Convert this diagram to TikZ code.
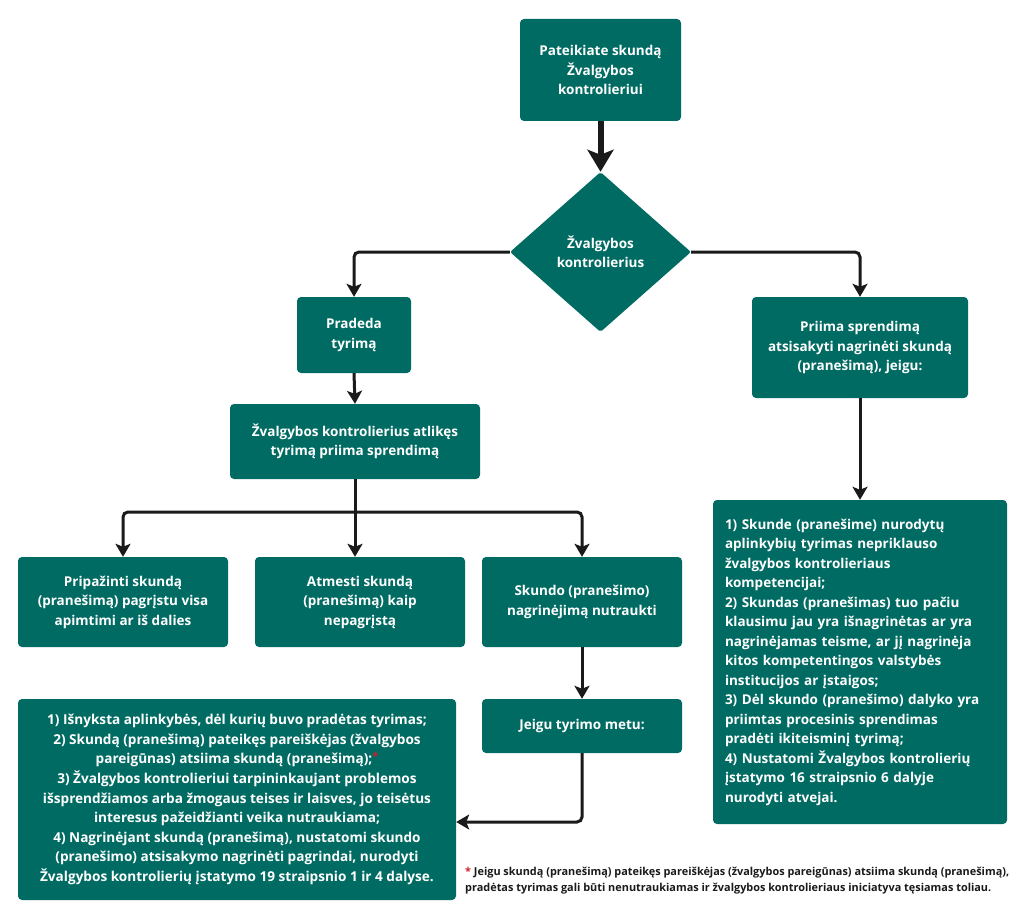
\documentclass[tikz,border=0pt]{standalone}
\usepackage{fontspec}
\setmainfont{Open Sans}
\usetikzlibrary{shapes.geometric,arrows.meta}
\definecolor{teal1}{RGB}{0,107,99}
\definecolor{ink}{RGB}{26,26,26}
\definecolor{starred}{RGB}{210,30,40}
\begin{document}
\begin{tikzpicture}[x=1pt,y=-1pt,
  box/.style={fill=teal1, rounded corners=4pt, text=white, align=center, inner sep=0pt,
    font=\fontsize{13.5}{19.5}\selectfont\bfseries},
  conn/.style={draw=ink, line width=3pt, rounded corners=5pt,
    -{Stealth[length=13pt,width=15pt,inset=3pt]}},
  bigconn/.style={draw=ink, line width=6pt,
    -{Stealth[length=22pt,width=26pt,inset=5pt]}},
  noarrow/.style={draw=ink, line width=3pt, rounded corners=5pt}
]
\useasboundingbox (0,0) rectangle (1024,917);
\fill[white] (0,0) rectangle (1024,917);

\node[box, minimum width=161pt, minimum height=102pt] (b1) at (600.5,70)
  {Pateikiate skundą\\Žvalgybos\\kontrolieriui};
\node[box, shape=diamond, rounded corners=2pt, minimum width=181pt, minimum height=160pt] (dia) at (600.5,252)
  {Žvalgybos\\kontrolierius};
\node[box, minimum width=114pt, minimum height=76pt] (prad) at (354,335)
  {Pradeda\\tyrimą};
\node[box, minimum width=216pt, minimum height=101pt] (priima) at (860,347.5)
  {Priima sprendimą\\atsisakyti nagrinėti skundą\\(pranešimą), jeigu:};
\node[box, minimum width=250pt, minimum height=75pt] (atl) at (355,441.5)
  {Žvalgybos kontrolierius atlikęs\\tyrimą priima sprendimą};
\node[box, minimum width=210pt, minimum height=90pt] (prip) at (123,602)
  {Pripažinti skundą\\(pranešimą) pagrįstu visa\\apimtimi ar iš dalies};
\node[box, minimum width=210pt, minimum height=90pt] (atm) at (360,602)
  {Atmesti skundą\\(pranešimą) kaip\\nepagrįstą};
\node[box, minimum width=200pt, minimum height=90pt] (sk) at (582,602)
  {Skundo (pranešimo)\\nagrinėjimą nutraukti};
\node[box, minimum width=200pt, minimum height=54pt] (jeigu) at (582,726)
  {Jeigu tyrimo metu:};
\node[box, minimum width=438pt, minimum height=201pt,
  font=\fontsize{13.6}{19.6}\selectfont\bfseries] (big) at (237,799.5)
  {1) Išnyksta aplinkybės, dėl kurių buvo pradėtas tyrimas;\\
   2) Skundą (pranešimą) pateikęs pareiškėjas (žvalgybos\\
   pareigūnas) atsiima skundą (pranešimą);\raisebox{3pt}{\textcolor{starred}{\fontsize{11}{11}\selectfont *}}\\
   3) Žvalgybos kontrolieriui tarpininkaujant problemos\\
   išsprendžiamos arba žmogaus teises ir laisves, jo teisėtus\\
   interesus pažeidžianti veika nutraukiama;\\
   4) Nagrinėjant skundą (pranešimą), nustatomi skundo\\
   (pranešimo) atsisakymo nagrinėti pagrindai, nurodyti\\
   Žvalgybos kontrolierių įstatymo 19 straipsnio 1 ir 4 dalyse.};
\node[box, minimum width=294pt, minimum height=324pt, align=left, text width=270pt] (list) at (860,662)
  {1) Skunde (pranešime) nurodytų\\
   aplinkybių tyrimas nepriklauso\\
   žvalgybos kontrolieriaus\\
   kompetencijai;\\
   2) Skundas (pranešimas) tuo pačiu\\
   klausimu jau yra išnagrinėtas ar yra\\
   nagrinėjamas teisme, ar jį nagrinėja\\
   kitos kompetentingos valstybės\\
   institucijos ar įstaigos;\\
   3) Dėl skundo (pranešimo) dalyko yra\\
   priimtas procesinis sprendimas\\
   pradėti ikiteisminį tyrimą;\\
   4) Nustatomi Žvalgybos kontrolierių\\
   įstatymo 16 straipsnio 6 dalyje\\
   nurodyti atvejai.};
\node[anchor=west, align=left, inner sep=0pt, text=ink,
  font=\fontsize{10.9}{16}\selectfont\bfseries] (foot) at (465,881)
  {\textcolor{starred}{*} Jeigu skundą (pranešimą) pateikęs pareiškėjas (žvalgybos pareigūnas) atsiima skundą (pranešimą),\\
   pradėtas tyrimas gali būti nenutraukiamas ir žvalgybos kontrolieriaus iniciatyva tęsiamas toliau.};

% connectors
\draw[bigconn] (b1.south) -- (dia.north);
\draw[conn] (dia.west) -| (prad.north);
\draw[conn] (dia.east) -| (priima.north);
\draw[conn] (prad.south) -- (atl.north);
\coordinate (split) at (atl.south |- 0,512);
\draw[noarrow] (atl.south) -- (split);
\draw[conn] (split) -| (prip.north);
\draw[conn] (split) -- (split |- atm.north);
\draw[conn] (split) -| (sk.north);
\draw[conn] (sk.south) -- (jeigu.north);
\coordinate (bigin) at (big.east |- 0,822);
\draw[conn] (jeigu.south) |- (bigin);
\draw[conn] (priima.south) -- (list.north);
\end{tikzpicture}
\end{document}
